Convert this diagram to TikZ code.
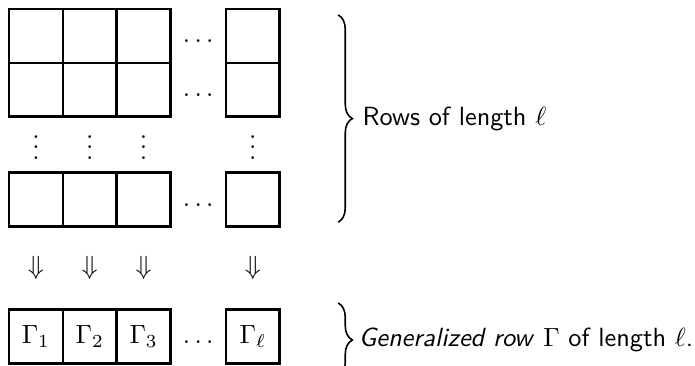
\documentclass[tikz,border=0pt]{standalone}
\usepackage{tikz}
\usetikzlibrary{positioning, calc, decorations.pathreplacing}
\tikzset{
    cellbox/.style={rectangle, draw, line width=1pt, minimum width=0.72cm, minimum height=0.72cm,
        inner sep=0pt, outer sep=0pt},
    dotsnode/.style={inner sep=0pt, text height=1.5ex, text depth=0.25ex},
    vdotsnode/.style={inner sep=0pt, yshift=0.07cm},
    rowbrace/.style={decorate, decoration={brace, amplitude=0.19cm}, semithick},
    bracelabel/.style={font=\sffamily},
}

\begin{document}
\begin{tikzpicture}[node distance=0pt]
    \useasboundingbox (-0.12,0.12) rectangle (9.17,-4.77);

    % First row
    \node[cellbox, anchor=north west] (a1) at (0,0) {};
    \node[cellbox, right=of a1] (a2) {};
    \node[cellbox, right=of a2] (a3) {};
    \node[cellbox, right=0.74cm of a3] (a4) {};

    % Second row directly below
    \foreach \i in {1,...,4}
        \node[cellbox, below=of a\i] (b\i) {};

    % Last row
    \foreach \i in {1,...,4}
        \node[cellbox, below=0.75cm of b\i] (c\i) {};

    % Generalized row
    \foreach \i/\lab in {1/1, 2/2, 3/3, 4/\ell}
        \node[cellbox, below=1.11cm of c\i] (g\i) {$\Gamma_{\lab}$};

    % Dots between third and last column
    \foreach \row in {a,b,c,g}
        \node[dotsnode] (dots\row) at ($(\row3)!0.5!(\row4)$) {$\dots$};

    % Vertical dots and arrows
    \foreach \i in {1,...,4} {
        \node[vdotsnode] (vd\i) at ($(b\i)!0.5!(c\i)$) {$\vdots$};
        \node (dn\i) at ($(c\i)!0.5!(g\i)$) {$\Downarrow$};
    }

    % Braces
    \coordinate (rtop) at ($(a4.north east)+(0.78,-0.08)$);
    \coordinate (rbot) at ($(c4.south east)+(0.78,0.06)$);
    \draw[rowbrace] (rtop) -- (rbot)
        node[bracelabel, midway, right=0.2cm] (rowlabel) {Rows of length $\ell$};

    \coordinate (gtop) at ($(g4.north east)+(0.78,0.09)$);
    \coordinate (gbot) at ($(g4.south east)+(0.78,-0.18)$);
    \draw[rowbrace] (gtop) -- (gbot)
        node[bracelabel, midway, right=0.15cm] (genlabel) {\textit{Generalized row} $\Gamma$ of length $\ell$.};
\end{tikzpicture}
\end{document}
